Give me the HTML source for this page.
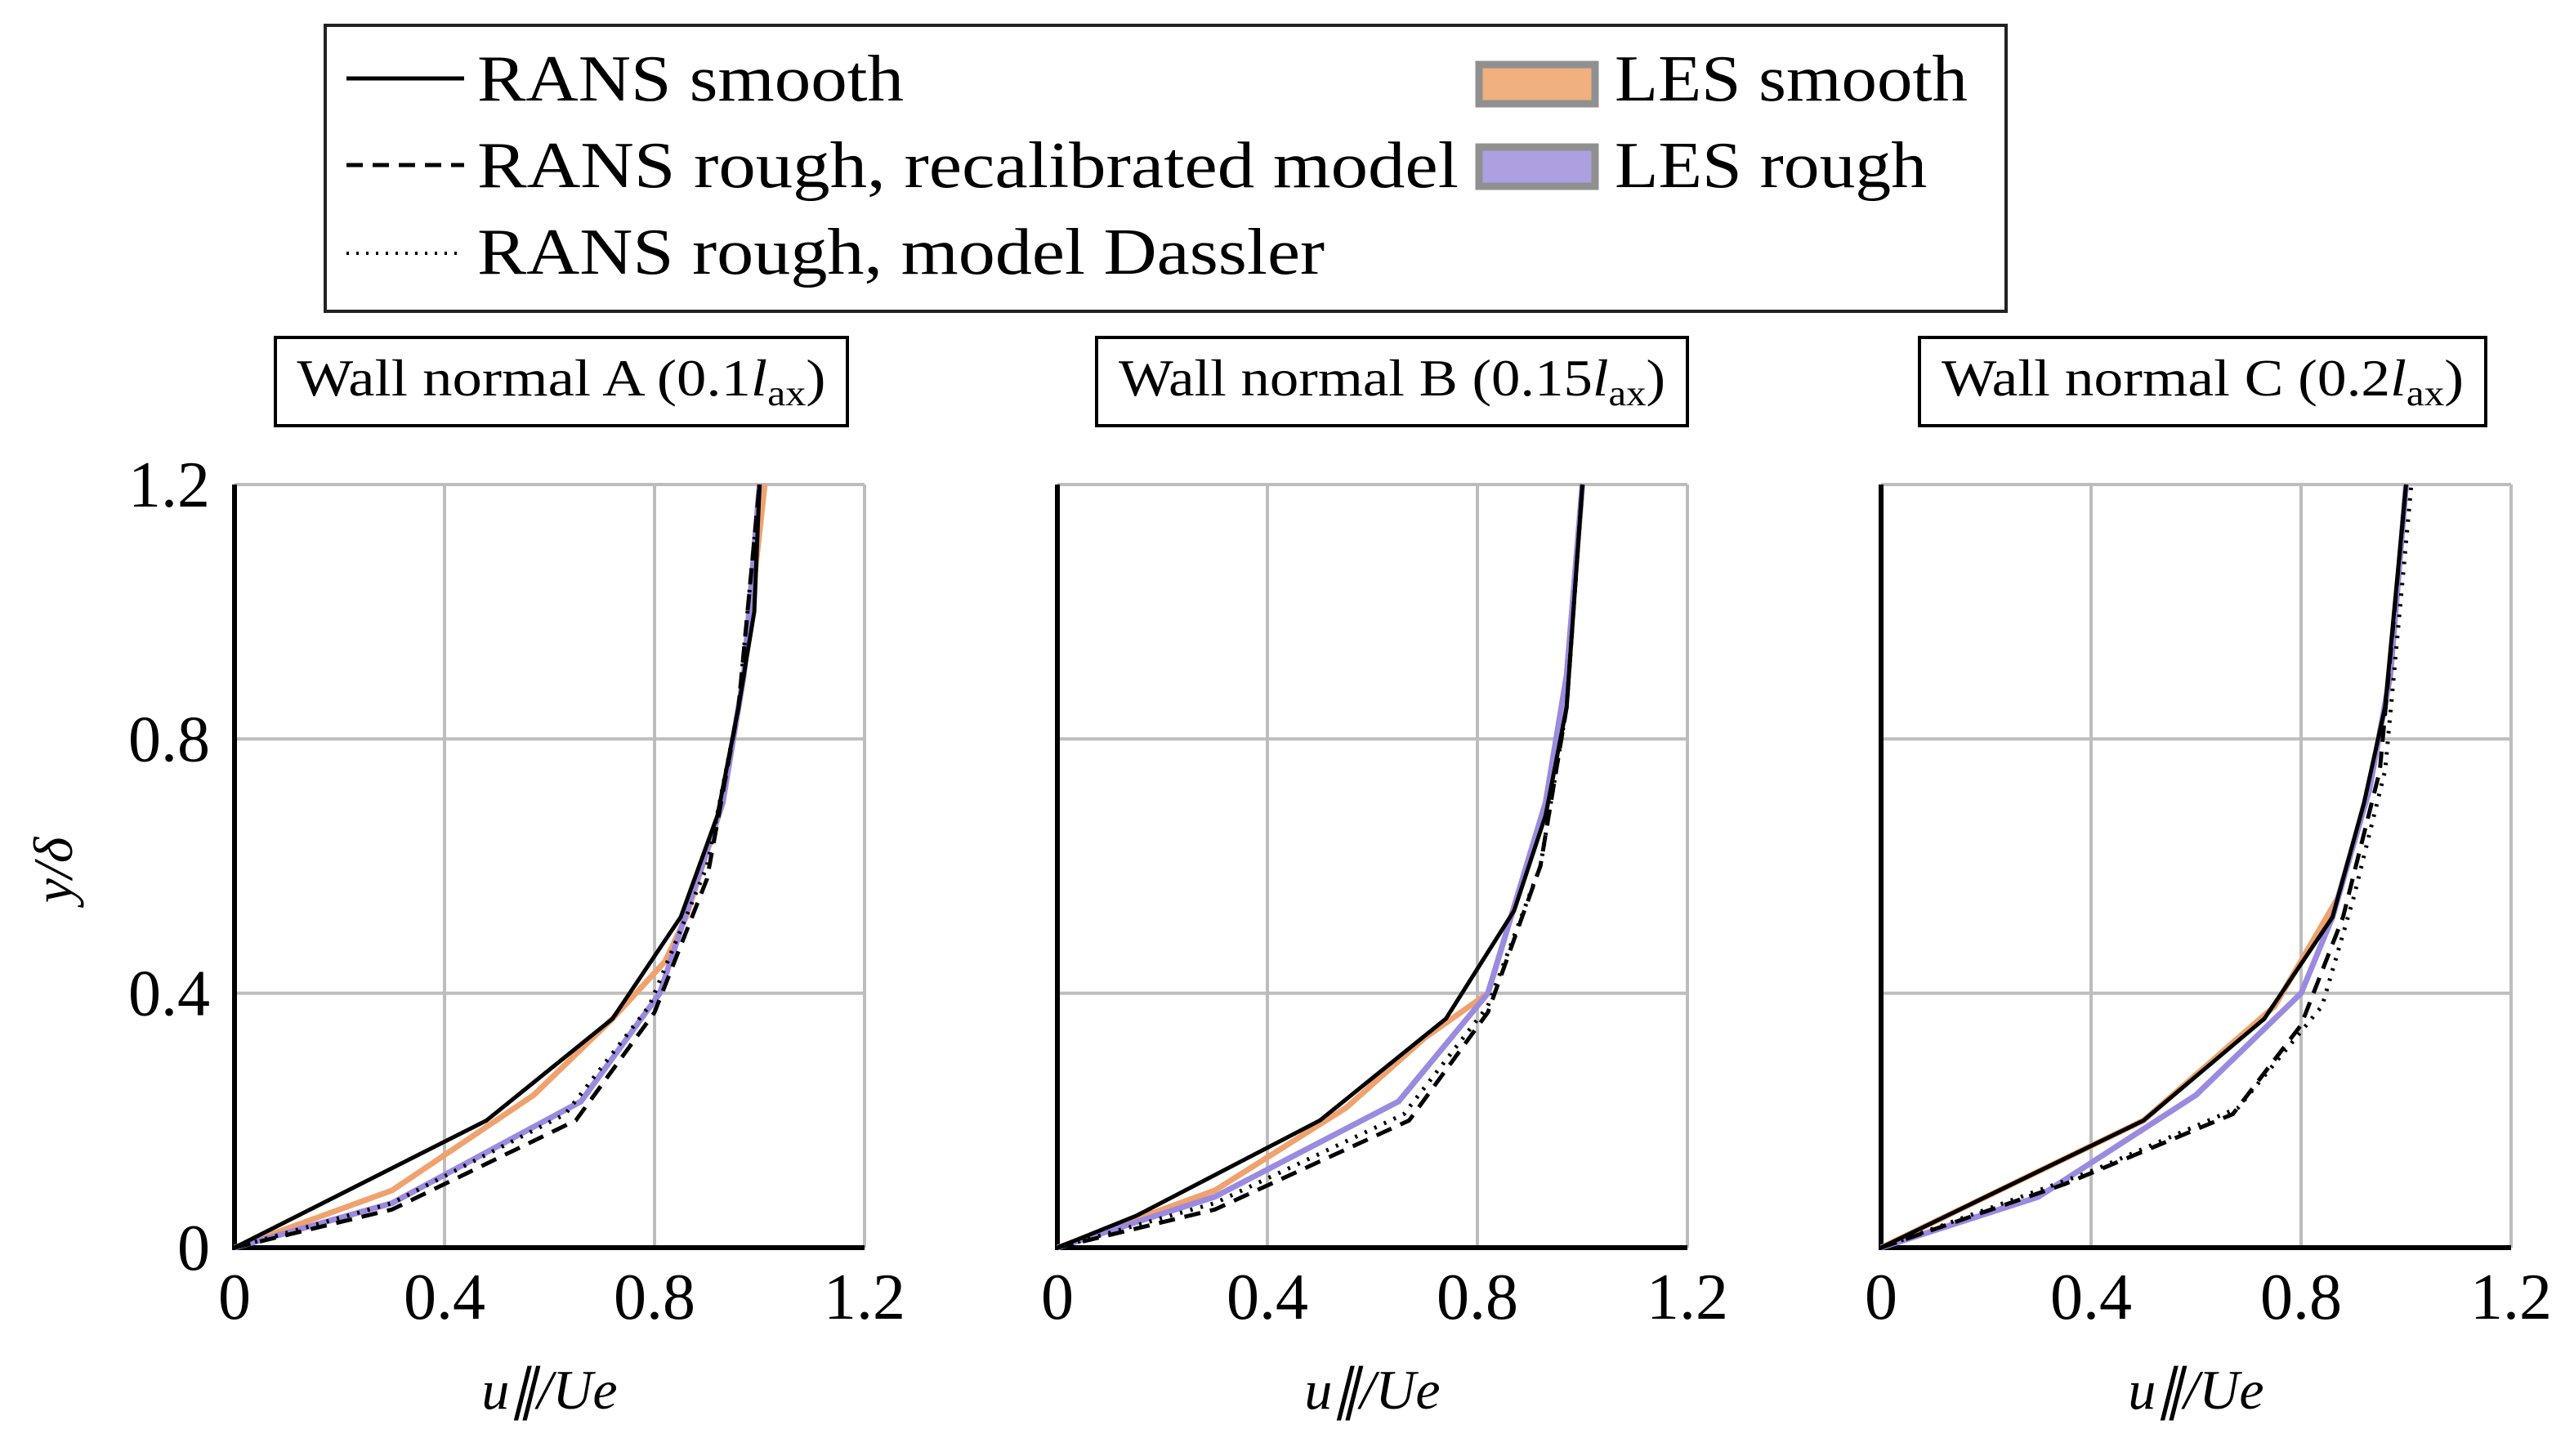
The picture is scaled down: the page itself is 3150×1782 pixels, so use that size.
<!DOCTYPE html>
<html><head><meta charset="utf-8"><style>
html,body{margin:0;padding:0;background:#fff;}
svg{display:block;}
text{font-family:"Liberation Serif",serif;fill:#000;}
</style></head><body>
<svg id="fig" width="3150" height="1782" viewBox="0 0 3150 1782" xmlns="http://www.w3.org/2000/svg">
<g>
<rect x="398" y="31" width="2057" height="350" fill="#fff" stroke="#222" stroke-width="4"/>
<g><line x1="424" y1="96" x2="568" y2="96" stroke="#000" stroke-width="5"/><text x="584" y="123" font-size="80" textLength="522" lengthAdjust="spacingAndGlyphs">RANS smooth</text></g>
<g><line x1="424" y1="202" x2="568" y2="202" stroke="#000" stroke-width="5" stroke-dasharray="20,12"/><text x="584" y="229" font-size="80" textLength="1201" lengthAdjust="spacingAndGlyphs">RANS rough, recalibrated model</text></g>
<g><line x1="424" y1="310" x2="568" y2="310" stroke="#000" stroke-width="4" stroke-dasharray="3,9"/><text x="584" y="335" font-size="80" textLength="1037" lengthAdjust="spacingAndGlyphs">RANS rough, model Dassler</text></g>
<g><rect x="1810" y="79" width="142" height="48" fill="#f0b080" stroke="#909090" stroke-width="9"/><text x="1976" y="123" font-size="80" textLength="432" lengthAdjust="spacingAndGlyphs">LES smooth</text></g>
<g><rect x="1810" y="180" width="142" height="48" fill="#ad9fe0" stroke="#909090" stroke-width="9"/><text x="1976" y="229" font-size="80" textLength="382" lengthAdjust="spacingAndGlyphs">LES rough</text></g>
</g>
<g id="panels"></g>
<text transform="translate(88,1065) rotate(-90)" font-size="68" font-style="italic" text-anchor="middle">y/δ</text>
</svg>
<script>
const xTicks=[0,0.4,0.8,1.2];
const yTicks=[0,0.4,0.8,1.2];
const tickLabels=["0","0.4","0.8","1.2"];
const panelTitles=["Wall normal A (0.1","Wall normal B (0.15","Wall normal C (0.2"];
// panel A
const aRansSmoothX=[0,0.48,0.72,0.85,0.92,0.96,0.99,1.0];
const aRansSmoothY=[0,0.2,0.36,0.52,0.68,0.85,1.0,1.2];
const aLesSmoothX=[0,0.3,0.57,0.72,0.82,0.86,0.93,0.97,1.01];
const aLesSmoothY=[0,0.09,0.24,0.36,0.45,0.52,0.7,0.9,1.2];
const aLesRoughX=[0,0.3,0.66,0.81,0.93,0.97,1.0];
const aLesRoughY=[0,0.07,0.23,0.4,0.7,0.9,1.2];
const aRecalX=[0,0.3,0.65,0.8,0.9,0.96,1.0];
const aRecalY=[0,0.06,0.2,0.37,0.58,0.85,1.2];
const aDasslerX=[0,0.3,0.63,0.79,0.9,0.96,1.0];
const aDasslerY=[0,0.07,0.21,0.38,0.6,0.85,1.2];
// panel B
const bRansSmoothX=[0,0.15,0.5,0.74,0.87,0.93,0.97,1.0];
const bRansSmoothY=[0,0.05,0.2,0.36,0.53,0.68,0.85,1.2];
const bLesSmoothX=[0,0.3,0.55,0.7,0.82,0.93,0.97,1.0];
const bLesSmoothY=[0,0.09,0.22,0.33,0.4,0.7,0.9,1.2];
const bLesRoughX=[0,0.3,0.65,0.82,0.93,0.97,1.0];
const bLesRoughY=[0,0.08,0.23,0.4,0.7,0.9,1.2];
const bRecalX=[0,0.3,0.67,0.82,0.92,0.97,1.0];
const bRecalY=[0,0.06,0.2,0.37,0.6,0.85,1.2];
const bDasslerX=[0,0.3,0.66,0.82,0.92,0.97,1.0];
const bDasslerY=[0,0.07,0.21,0.38,0.6,0.85,1.2];
// panel C
const cRansSmoothX=[0,0.5,0.73,0.86,0.92,0.96,1.0];
const cRansSmoothY=[0,0.2,0.36,0.52,0.7,0.85,1.2];
const cLesSmoothX=[0,0.5,0.75,0.87,0.93,0.97,1.0];
const cLesSmoothY=[0,0.2,0.38,0.55,0.72,0.9,1.2];
const cLesRoughX=[0,0.3,0.6,0.8,0.86,0.93,0.97,1.0];
const cLesRoughY=[0,0.08,0.24,0.4,0.52,0.72,0.9,1.2];
const cRecalX=[0,0.35,0.67,0.8,0.88,0.95,1.0];
const cRecalY=[0,0.1,0.21,0.35,0.52,0.75,1.2];
const cDasslerX=[0,0.4,0.68,0.84,0.9,0.96,1.01];
const cDasslerY=[0,0.12,0.22,0.38,0.55,0.75,1.2];

const NS="http://www.w3.org/2000/svg";
const root=document.getElementById('panels');
const panelX0=[287,1294,2302];
const panels=[
 {rs:[aRansSmoothX,aRansSmoothY],ls:[aLesSmoothX,aLesSmoothY],lr:[aLesRoughX,aLesRoughY],rc:[aRecalX,aRecalY],rd:[aDasslerX,aDasslerY]},
 {rs:[bRansSmoothX,bRansSmoothY],ls:[bLesSmoothX,bLesSmoothY],lr:[bLesRoughX,bLesRoughY],rc:[bRecalX,bRecalY],rd:[bDasslerX,bDasslerY]},
 {rs:[cRansSmoothX,cRansSmoothY],ls:[cLesSmoothX,cLesSmoothY],lr:[cLesRoughX,cLesRoughY],rc:[cRecalX,cRecalY],rd:[cDasslerX,cDasslerY]}];
const W=771, Y0=1527, Y1=593;
function mk(tag,attrs,parent){const e=document.createElementNS(NS,tag);for(const k in attrs)e.setAttribute(k,attrs[k]);parent.appendChild(e);return e;}
panels.forEach((p,i)=>{
 const x0=panelX0[i];
 const sx=v=>x0+v/1.2*W;
 const sy=v=>Y0-v/1.2*(Y0-Y1);
 const g=mk('g',{},root);
 
 
 xTicks.forEach((t,j)=>{
  const l=mk('line',{x1:sx(t),x2:sx(t),y1:Y1,y2:Y0,stroke:'#bdbdbd','stroke-width':4},g);
  
  
  const tx=mk('text',{x:sx(t),y:1614,'font-size':80,'text-anchor':'middle'},g);
  tx.textContent=tickLabels[j];
  
  
 });
 yTicks.forEach((t,j)=>{
  const l=mk('line',{x1:x0,x2:x0+W,y1:sy(t),y2:sy(t),stroke:'#bdbdbd','stroke-width':4},g);
  
  
  if(i===0){
   const tx=mk('text',{x:257,y:sy(t)+27,'font-size':80,'text-anchor':'end'},g);
   tx.textContent=tickLabels[j];
   
   
  }
 });
 const ax=mk('path',{d:`M${x0},${Y1} V${Y0} H${x0+W}`,fill:'none',stroke:'#000','stroke-width':6},g);
 
 
 const pts=s=>s[0].map((v,k)=>sx(v)+','+sy(s[1][k])).join(' ');
 const series=[['ls','#f0a26e',7,null,'les-smooth-line'],['lr','#9b8ae0',7,null,'les-rough-line'],
  ['rc','#000',5,'20,12','rans-recalibrated-line'],['rd','#000',5,'3,10','rans-dassler-line'],['rs','#000',5,null,'rans-smooth-line']];
 series.forEach(s=>{
  const a={points:pts(p[s[0]]),fill:'none',stroke:s[1],'stroke-width':s[2],'stroke-linejoin':'round'};
  if(s[3])a['stroke-dasharray']=s[3];
  const pl=mk('polyline',a,g);
  
  
 });
 const tb=[[337,700],[1342,723],[2349,693]][i];
 const tl=[647,669,639][i];
 const r=mk('rect',{x:tb[0],y:413,width:tb[1],height:108,fill:'#fff',stroke:'#000','stroke-width':4},g);
 
 
 const tt=mk('text',{x:tb[0]+tb[1]/2,y:484,'font-size':64,'text-anchor':'middle',textLength:tl,lengthAdjust:'spacingAndGlyphs'},g);
 
 
 tt.appendChild(document.createTextNode(panelTitles[i]));
 const it=mk('tspan',{'font-style':'italic'},tt);it.textContent='l';
 const sb=mk('tspan',{'font-size':44,dy:12},tt);sb.textContent='ax';
 const cp=mk('tspan',{dy:-12},tt);cp.textContent=')';
 const xl=mk('text',{x:x0+W/2,y:1724,'font-size':68,'font-style':'italic','text-anchor':'middle'},g);
 xl.textContent='u∥/Ue';
 
 
});
</script>
</body></html>
